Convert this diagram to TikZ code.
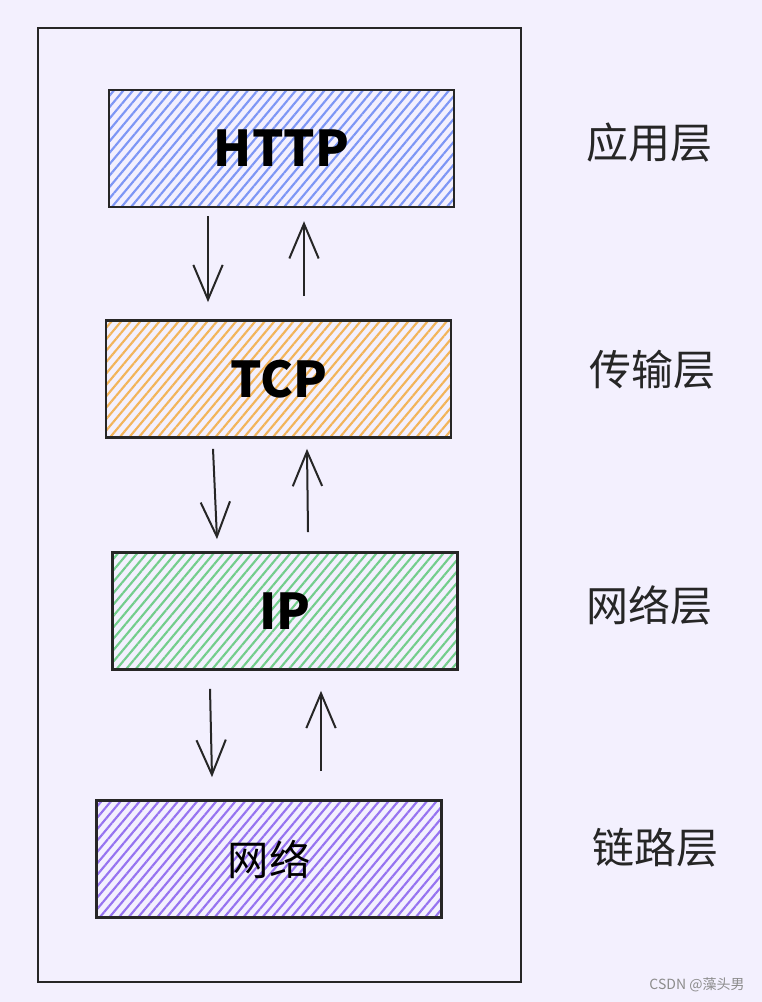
\documentclass[tikz,border=0pt]{standalone}
\usepackage{fontspec}
\setmainfont{Noto Sans CJK SC}
\usetikzlibrary{positioning, calc, patterns.meta, arrows.meta}

\definecolor{bgcol}{RGB}{243,240,254}
\definecolor{httpcol}{RGB}{125,150,245}
\definecolor{tcpcol}{RGB}{242,180,90}
\definecolor{ipcol}{RGB}{115,205,140}
\definecolor{linkcol}{RGB}{150,115,240}

\begin{document}
\begin{tikzpicture}[x=0.75pt, y=-0.75pt,
  layer/.style={draw=black!85, line width=1.8pt, minimum width=259pt, minimum height=88pt,
    inner sep=0pt, font=\fontsize{31}{34}\selectfont},
  proto/.style={font=\fontsize{37}{40}\selectfont\bfseries},
  hatch/.style={pattern={Lines[angle=50, distance=5.5pt, line width=1.6pt]}, pattern color=#1},
  side/.style={font=\fontsize{31.5}{34}\selectfont, text=black!85},
  flow/.style={line width=1.5pt, draw=black!85, -{Straight Barb[length=26pt, width=22pt]}}]
  \path[use as bounding box, fill=bgcol] (0,0) rectangle (762,1002);
  \draw[line width=1.5pt, black!85] (38,28) rectangle (521,982);

  % protocol boxes
  \node (http) [layer, proto, hatch=httpcol] at (281.5,148.5) {HTTP};
  \node (tcp) [layer, proto, hatch=tcpcol] at (278.5,379) {TCP};
  \node (ip) [layer, proto, hatch=ipcol] at (285,611) {IP};
  \node (link) [layer, hatch=linkcol] at (269,859) {网络};

  % layer names
  \node (app) [side] at (649,143) {应用层};
  \node (trans) [side] at (652,370) {传输层};
  \node (net) [side] at (649,605) {网络层};
  \node (dlink) [side] at (655,848) {链路层};

  % data going down and up
  \draw[flow] ($(http.south)+(-73.5,8)$) -- ($(tcp.north)+(-70.5,-17)$);
  \draw[flow] ($(tcp.north)+(25.5,-23)$) -- ($(http.south)+(22.5,13)$);
  \draw[flow] ($(tcp.south)+(-65.5,10)$) -- ($(ip.north)+(-68,-12)$);
  \draw[flow] ($(ip.north)+(23,-19)$) -- ($(tcp.south)+(28.5,10)$);
  \draw[flow] ($(ip.south)+(-75,18)$) -- ($(link.north)+(-57,-22)$);
  \draw[flow] ($(link.north)+(52,-28)$) -- ($(ip.south)+(36,20)$);

  \node (mark) [text=black!45, font=\fontsize{10.5}{12}\selectfont] at (697,985) {CSDN @藻头男};
\end{tikzpicture}
\end{document}
